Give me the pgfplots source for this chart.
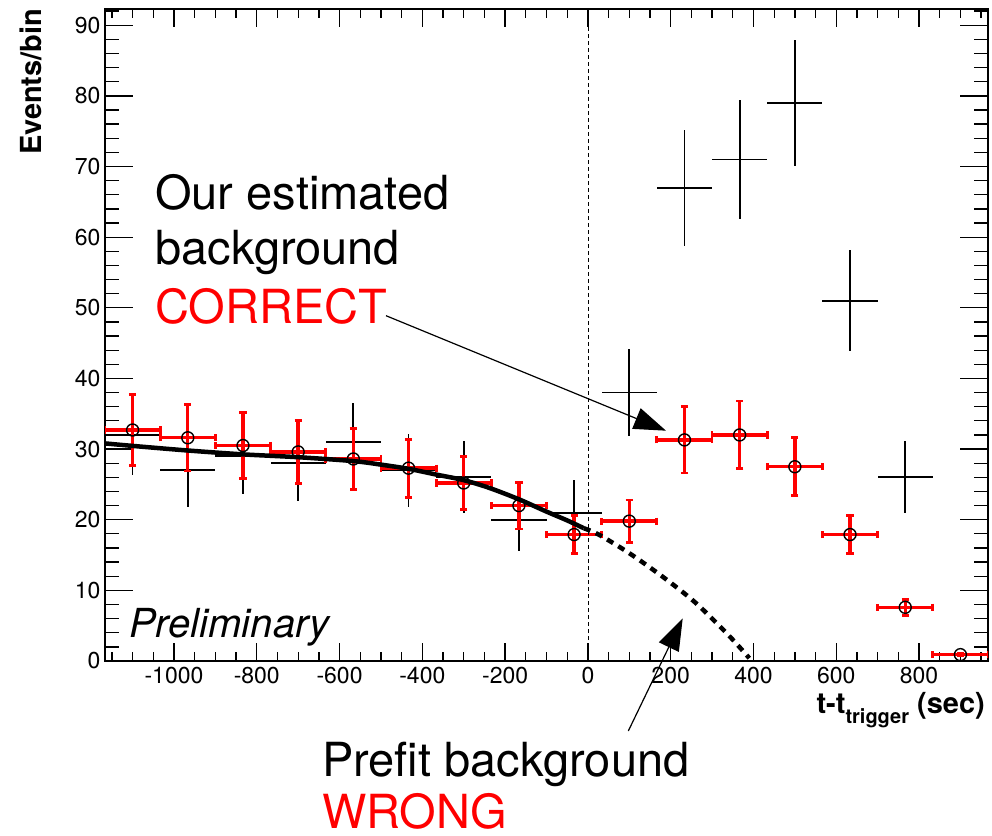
\documentclass[border=0pt]{standalone}
\usepackage{pgfplots}
\pgfplotsset{compat=1.18}
\usepackage{pgfplotstable}
\usepackage{fontspec}
\setmainfont{TeX Gyre Heros}
\usetikzlibrary{arrows.meta}
\newcommand\fs[1]{\fontsize{#1}{#1}\selectfont}

\pgfplotstableread{
x y ey
-1100 32.7 5.0
-966.67 31.6 4.7
-833.33 30.5 4.65
-700 29.6 4.5
-566.67 28.6 4.3
-433.33 27.3 4.1
-300 25.2 3.8
-166.67 22.0 3.3
-33.33 17.9 2.65
100 19.8 3.0
233.33 31.3 4.7
366.67 32.0 4.8
500 27.5 4.1
633.33 17.9 2.7
766.67 7.6 1.15
900 0.9 0.15
}\redtab

\pgfplotstableread{
x y ey
-1100 32 5.66
-966.67 27 5.20
-833.33 29 5.39
-700 28 5.29
-566.67 31 5.57
-433.33 27 5.20
-300 26 5.10
-166.67 20 4.47
-33.33 21 4.58
100 38 6.16
233.33 67 8.19
366.67 71 8.43
500 79 8.89
633.33 51 7.14
766.67 26 5.10
}\blacktab

\begin{document}
\begin{tikzpicture}
\path[use as bounding box] (0,0) rectangle (992pt,835pt);
\begin{axis}[at={(105pt,174pt)}, anchor=south west, scale only axis,
  width=883pt, height=652pt,
  xmin=-1166.67, xmax=966.67, ymin=0, ymax=92.3,
  axis line style={line width=1.5pt},
  tick align=inside,
  xtick={-1000,-800,...,800}, ytick={0,10,...,90},
  minor xtick={-1150,-1100,...,950}, minor ytick={2,4,...,92},
  xtick style={/pgfplots/major tick length=18pt,/pgfplots/minor tick length=9pt,line width=1.3pt,black},
  ytick style={/pgfplots/major tick length=28pt,/pgfplots/minor tick length=14pt,line width=1.3pt,black},
  ticklabel style={font=\fs{23}},
  xticklabel style={yshift=-3pt},
  yticklabel style={xshift=-1pt},
  /pgf/number format/assume math mode=true,
  /pgf/number format/1000 sep={},
]
% measured data (black crosses)
\addplot[draw=none, mark=none,
  error bars/.cd, x dir=both, x fixed=66.67, y dir=both, y explicit,
  error bar style={line width=1.8pt, draw=black, solid}, error mark=none]
  table[x=x, y=y, y error=ey] {\blacktab};
% estimated background (red)
\addplot[draw=none, mark=none,
  error bars/.cd, x dir=both, x fixed=66.67, y dir=both, y explicit,
  error bar style={line width=3.4pt, draw=red, solid},
  error mark=-,
  error mark options={rotate=90, line width=2.8pt, mark size=3.6pt, draw=red, solid}]
  table[x=x, y=y, y error=ey] {\redtab};
% fit (solid part)
\addplot[black, line width=4.5pt, smooth, mark=none] coordinates {
(-1166,30.8) (-1100,30.45) (-967,29.8) (-833,29.25) (-700,28.85) (-567,28.3)
(-500,27.8) (-433,27.2) (-367,26.4) (-300,25.6) (-238,24.5) (-167,22.9)
(-102,21.2) (-50,19.9) (-10,18.8)};
% prefit extrapolation (dotted part)
\addplot[black, line width=4.5pt, smooth, mark=none, dash pattern=on 7pt off 6pt] coordinates {
(-10,18.8) (26,17.9) (99,15.3) (179,12.0) (259,8.3) (339,3.7) (390,0.4)};
% circles
\addplot[black, only marks, mark=o, mark size=6pt, mark options={line width=1.4pt}]
  table[x=x, y=y] {\redtab};
\draw[black, line width=1pt, dash pattern=on 4pt off 3pt] (axis cs:2,0) -- (axis cs:2,92.3);
\end{axis}
\begin{scope}[x=1pt, y=-1pt, shift={(0pt,835pt)}]
\node[rotate=90, anchor=base east, inner sep=0] at (41.5,8.5) {\fs{29}\bfseries Events/bin};
\node[anchor=base east, inner sep=0] at (985,713.3) {\fs{29}\bfseries t-t\raisebox{-10pt}{\fs{20}\bfseries trigger} (sec)};
\node[anchor=base west, inner sep=0] at (129,638) {\fs{40}\itshape Preliminary};
\node[anchor=base west, inner sep=0] at (155,209.3) {\fs{47}Our estimated};
\node[anchor=base west, inner sep=0] at (155,265) {\fs{47}background};
\node[anchor=base west, inner sep=0, text=red] at (155,323.3) {\fs{47}CORRECT};
\node[anchor=base west, inner sep=0] at (322,776) {\fs{47}Prefit background};
\node[anchor=base west, inner sep=0, text=red] at (322,828) {\fs{47}WRONG};
\draw[black, line width=1.2pt, -{Triangle[length=32pt,width=22pt]}] (386,315.7) -- (666,430.7);
\draw[black, line width=1.2pt, -{Triangle[length=32pt,width=22pt]}] (628.3,731) -- (682.7,618.3);
\end{scope}
\end{tikzpicture}
\end{document}
